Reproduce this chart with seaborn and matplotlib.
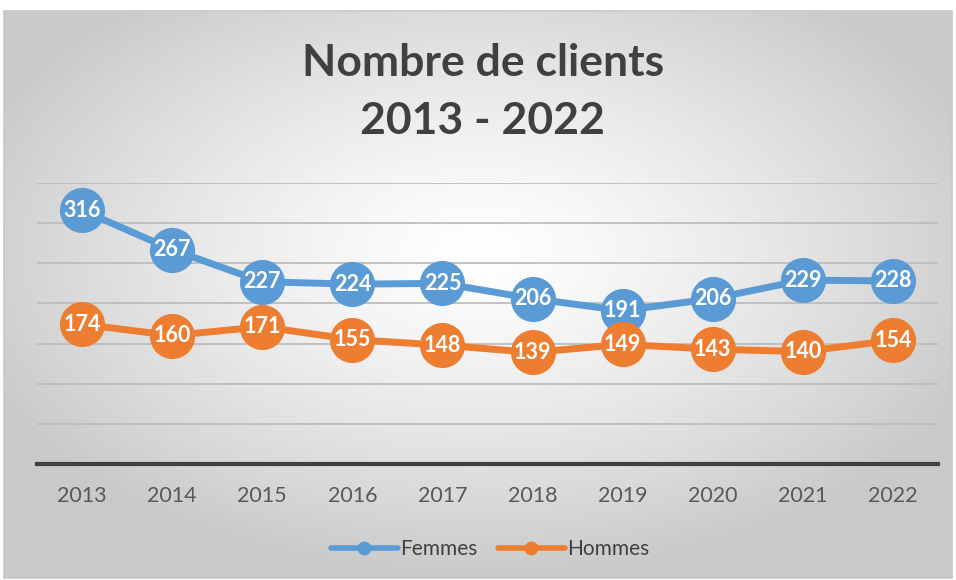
import numpy as np
import pandas as pd
import matplotlib
matplotlib.use("Agg")
import matplotlib.pyplot as plt
import seaborn as sns
from matplotlib.lines import Line2D

years = ["2013", "2014", "2015", "2016", "2017", "2018", "2019", "2020", "2021", "2022"]
femmes = [316, 267, 227, 224, 225, 206, 191, 206, 229, 228]
hommes = [174, 160, 171, 155, 148, 139, 149, 143, 140, 154]
series_names = ["Femmes", "Hommes"]
colors = ["#5B9BD5", "#ED7D31"]
title_lines = ["Nombre de clients", "2013 - 2022"]

sns.set_theme(style="white")
plt.rcParams["font.family"] = ["Lato", "DejaVu Sans"]

W, H = 956, 580
fig = plt.figure(figsize=(W / 100, H / 100), dpi=100)
fig.patch.set_facecolor("white")

# radial gradient background panel
bx0, by0, bx1, by1 = 4, 11, 952, 578
bg = fig.add_axes([bx0 / W, 1 - by1 / H, (bx1 - bx0) / W, (by1 - by0) / H], zorder=0)
nx, ny = 400, 240
xx, yy = np.meshgrid(np.linspace(-1, 1, nx), np.linspace(-1, 1, ny))
cx, cy = 0.0, 0.15
r = np.sqrt((xx - cx) ** 2 + (yy - cy) ** 2)
r = np.clip(r / 1.15, 0, 1)
light = 1.0 - 0.21 * r ** 1.3
img = np.dstack([light, light, light])
bg.imshow(img, aspect="auto", extent=[0, 1, 0, 1], origin="lower")
bg.set_axis_off()
fig.patches.append(plt.Rectangle((bx0 / W, 1 - by1 / H), (bx1 - bx0) / W, (by1 - by0) / H,
                                 transform=fig.transFigure, fill=False, edgecolor="#c8c8c8",
                                 linewidth=1.2, zorder=5))

ax = fig.add_axes([37 / W, 1 - 464 / H, (938 - 37) / W, (464 - 183) / H], zorder=1)
ax.patch.set_alpha(0)

df = pd.DataFrame({
    "x": list(range(len(years))) * 2,
    "value": femmes + hommes,
    "serie": [series_names[0]] * len(years) + [series_names[1]] * len(years),
})

sns.lineplot(data=df, x="x", y="value", hue="serie", palette=colors, marker="o",
             markersize=32.5, linewidth=5, markeredgewidth=0, ax=ax, legend=False,
             zorder=3)

for vals in (femmes, hommes):
    for i, v in enumerate(vals):
        ax.text(i, v, str(v), ha="center", va="center", color="white",
                fontsize=15.5, fontweight="bold", zorder=5)

ax.set_xlim(-0.5, len(years) - 0.5)
ax.set_ylim(0, 350)
ax.set_yticks(np.arange(50, 351, 50))
ax.yaxis.grid(True, color="#bdbdbd", linewidth=1.3)
ax.set_axisbelow(True)
ax.set_yticklabels([])
ax.tick_params(axis="y", length=0)
ax.set_xticks(range(len(years)))
ax.set_xticklabels(years, fontsize=15.5, color="#595959")
ax.tick_params(axis="x", length=0, pad=16)
ax.set_xlabel("")
ax.set_ylabel("")
for s in ["top", "left", "right"]:
    ax.spines[s].set_visible(False)
ax.spines["bottom"].set_color("#404040")
ax.spines["bottom"].set_linewidth(3)

cxf = 0.5 * (bx0 + bx1) / W + 0.005
fig.text(cxf, 1 - 63 / H, title_lines[0], ha="center", va="center",
         fontsize=32, fontweight="bold", color="#404040")
fig.text(cxf, 1 - 121 / H, title_lines[1], ha="center", va="center",
         fontsize=32, fontweight="bold", color="#404040")

handles = [Line2D([0], [0], color=c, linewidth=4, marker="o", markersize=9) for c in colors]
leg = fig.legend(handles, series_names, loc="center", bbox_to_anchor=(490 / W, 1 - 549 / H),
                 ncol=2, frameon=False, fontsize=15, handlelength=3.2, handletextpad=0.1,
                 columnspacing=1.0)
for t in leg.get_texts():
    t.set_color("#404040")

fig.savefig("out.png", dpi=100)
